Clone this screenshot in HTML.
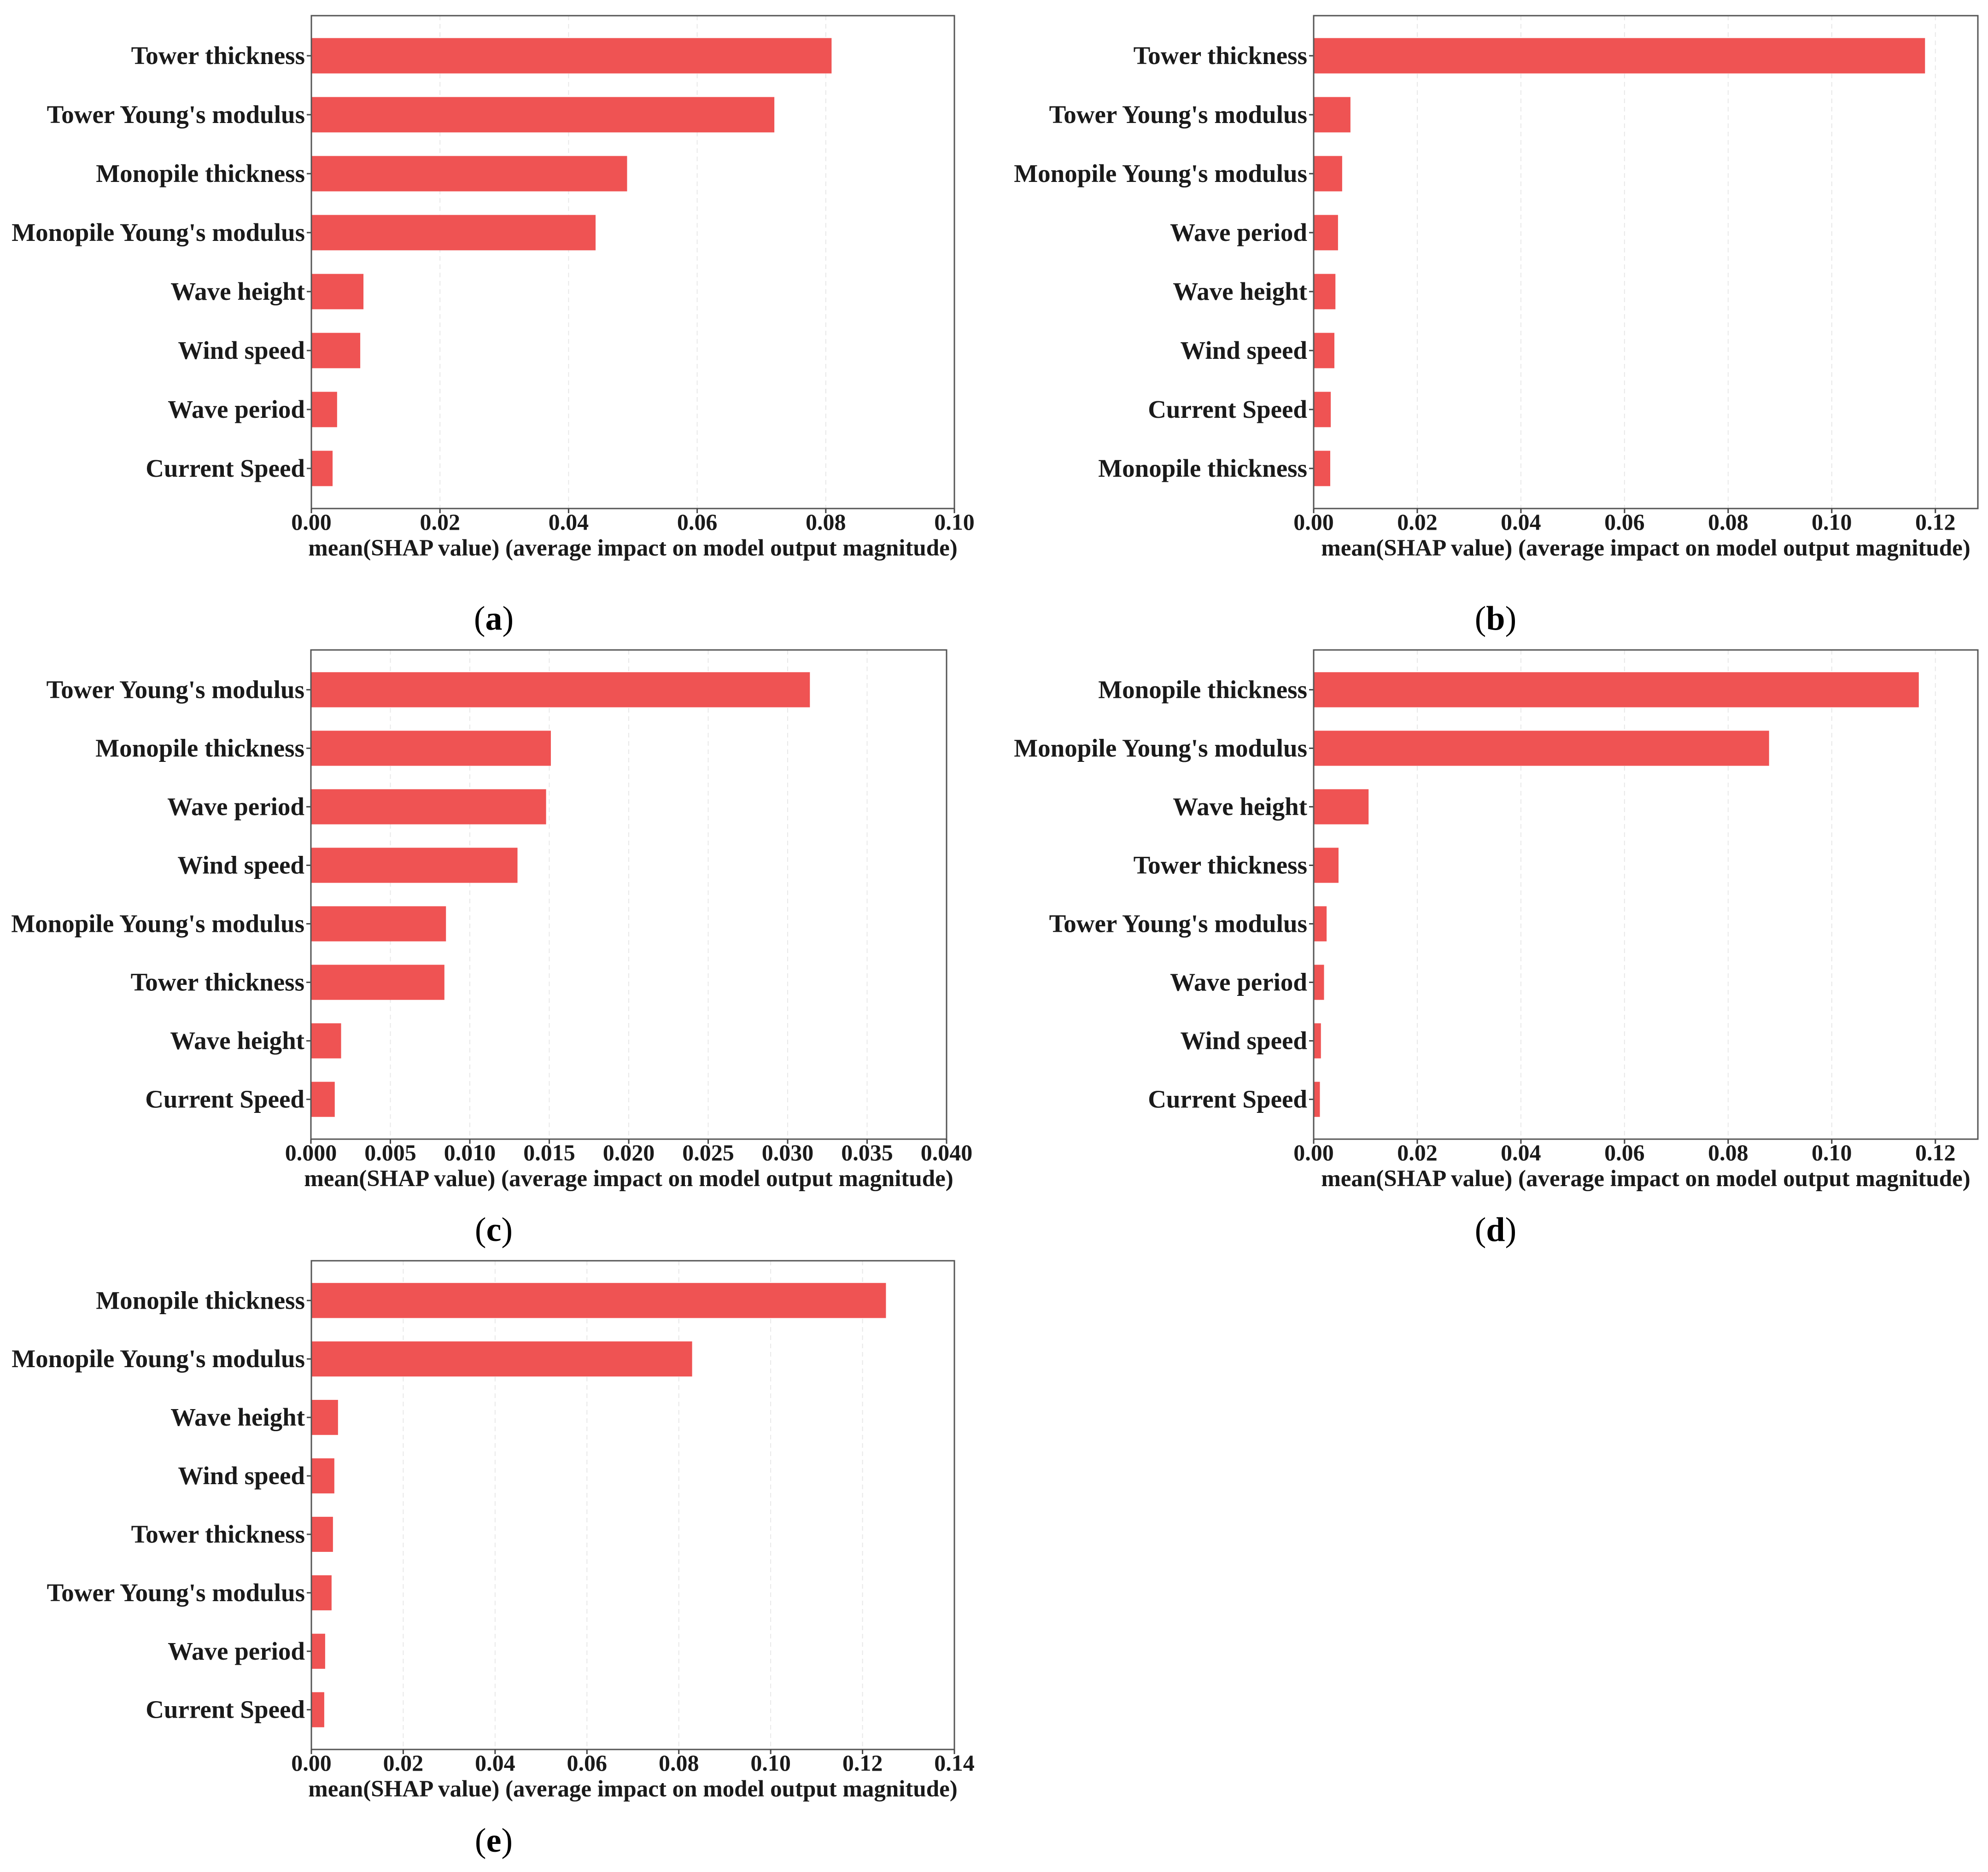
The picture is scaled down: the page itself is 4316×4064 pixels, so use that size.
<!DOCTYPE html>
<html><head><meta charset="utf-8"><style>
html,body{margin:0;padding:0;background:#fff;}
svg{display:block;}
text{font-family:"Liberation Serif",serif;}
</style></head>
<body>
<svg id="fig" width="4316" height="4064" viewBox="0 0 4316 4064" xmlns="http://www.w3.org/2000/svg"></svg>
<script>
// Panel (a)
const catsA = ["Tower thickness","Tower Young's modulus","Monopile thickness","Monopile Young's modulus","Wave height","Wind speed","Wave period","Current Speed"];
const valsA = [0.0809,0.0720,0.0491,0.0442,0.0081,0.0076,0.0040,0.0033];
const ticksA = [0,0.02,0.04,0.06,0.08,0.10];
const tickLabelsA = ["0.00","0.02","0.04","0.06","0.08","0.10"];
// Panel (b)
const catsB = ["Tower thickness","Tower Young's modulus","Monopile Young's modulus","Wave period","Wave height","Wind speed","Current Speed","Monopile thickness"];
const valsB = [0.1180,0.0071,0.0055,0.0047,0.0042,0.0040,0.0033,0.0032];
const ticksB = [0,0.02,0.04,0.06,0.08,0.10,0.12];
const tickLabelsB = ["0.00","0.02","0.04","0.06","0.08","0.10","0.12"];
// Panel (c)
const catsC = ["Tower Young's modulus","Monopile thickness","Wave period","Wind speed","Monopile Young's modulus","Tower thickness","Wave height","Current Speed"];
const valsC = [0.0314,0.0151,0.0148,0.0130,0.0085,0.0084,0.0019,0.0015];
const ticksC = [0,0.005,0.010,0.015,0.020,0.025,0.030,0.035,0.040];
const tickLabelsC = ["0.000","0.005","0.010","0.015","0.020","0.025","0.030","0.035","0.040"];
// Panel (d)
const catsD = ["Monopile thickness","Monopile Young's modulus","Wave height","Tower thickness","Tower Young's modulus","Wave period","Wind speed","Current Speed"];
const valsD = [0.1168,0.0879,0.0106,0.0048,0.0025,0.0020,0.0014,0.0012];
const ticksD = [0,0.02,0.04,0.06,0.08,0.10,0.12];
const tickLabelsD = ["0.00","0.02","0.04","0.06","0.08","0.10","0.12"];
// Panel (e)
const catsE = ["Monopile thickness","Monopile Young's modulus","Wave height","Wind speed","Tower thickness","Tower Young's modulus","Wave period","Current Speed"];
const valsE = [0.1251,0.0829,0.0058,0.0050,0.0047,0.0044,0.0030,0.0028];
const ticksE = [0,0.02,0.04,0.06,0.08,0.10,0.12,0.14];
const tickLabelsE = ["0.00","0.02","0.04","0.06","0.08","0.10","0.12","0.14"];

const NS = "http://www.w3.org/2000/svg";
const svg = document.getElementById('fig');
function mk(tag, attrs, parent){
  const e = document.createElementNS(NS, tag);
  for (const k in attrs) e.setAttribute(k, attrs[k]);
  (parent||svg).appendChild(e);
  return e;
}
function panel(id, letter, cats, vals, ticks, tickLabels, box, xmax, letterX, letterY){
  const g = mk('g', {});
  
  
  const [L, T, R, B] = box;
  const x = v => L + (v / xmax) * (R - L);
  const n = cats.length;
  const pad = 0.68;
  const step = (B - T) / (n - 1 + 2 * pad);
  const yc = i => T + (i + pad) * step;
  const bh = step * 0.6;
  ticks.forEach((t, i) => {
    if (i === 0) return;
    const gl = mk('line', {x1:x(t), x2:x(t), y1:T, y2:B, stroke:'#e8e8e8', 'stroke-width':2, 'stroke-dasharray':'10,8'}, g);
    
    
  });
  cats.forEach((c, i) => {
    const r = mk('rect', {x:L, y:yc(i) - bh/2, width:x(vals[i]) - L, height:bh, fill:'#ef5353'}, g);
    
    
    mk('line', {x1:L-10, x2:L, y1:yc(i), y2:yc(i), stroke:'#444', 'stroke-width':3}, g);
    const t = mk('text', {x:L-14, y:yc(i)+18, 'text-anchor':'end', 'font-size':55, 'font-weight':'bold', fill:'#1a1a1a'}, g);
    t.textContent = c;
    
    
  });
  const f = mk('rect', {x:L, y:T, width:R-L, height:B-T, fill:'none', stroke:'#555', 'stroke-width':3}, g);
  
  
  ticks.forEach((t, i) => {
    mk('line', {x1:x(t), x2:x(t), y1:B, y2:B+10, stroke:'#444', 'stroke-width':3}, g);
    const tl = mk('text', {x:x(t), y:B+46, 'text-anchor':'middle', 'font-size':50, 'font-weight':'bold', fill:'#1a1a1a'}, g);
    tl.textContent = tickLabels[i];
    
    
  });
  const xt = mk('text', {x:(L+R)/2, y:B+102, 'text-anchor':'middle', 'font-size':51, 'font-weight':'bold', fill:'#1a1a1a'}, g);
  xt.textContent = 'mean(SHAP value) (average impact on model output magnitude)';
  
  
  const lt = mk('text', {x:letterX, y:letterY+22, 'text-anchor':'middle', 'font-size':74, fill:'#000'}, g);
  lt.innerHTML = '(<tspan font-weight="bold">' + letter + '</tspan>)';
  
  
}
panel('a','a',catsA,valsA,ticksA,tickLabelsA,[676,34,2072,1104],0.10,1072,1345);
panel('b','b',catsB,valsB,ticksB,tickLabelsB,[2852,34,4294,1104],0.1282,3247,1345);
panel('c','c',catsC,valsC,ticksC,tickLabelsC,[675,1411,2055,2473],0.04,1072,2672);
panel('d','d',catsD,valsD,ticksD,tickLabelsD,[2852,1411,4294,2473],0.1282,3247,2672);
panel('e','e',catsE,valsE,ticksE,tickLabelsE,[676,2737,2072,3798],0.14,1072,3998);
</script>
</body></html>
